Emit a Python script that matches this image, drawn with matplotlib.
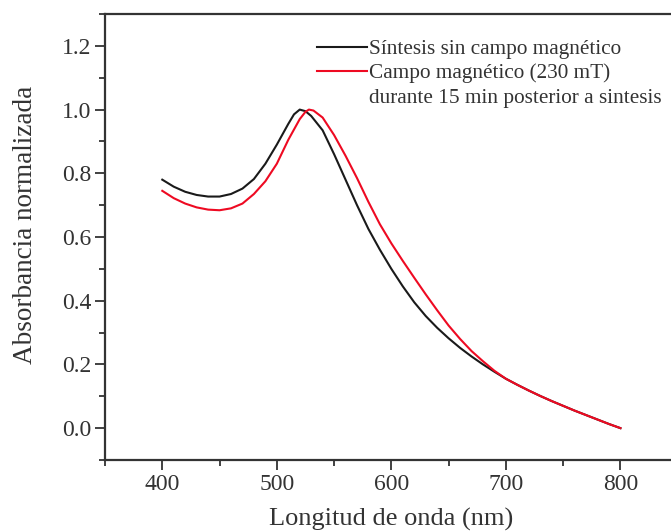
import matplotlib
matplotlib.use("Agg")
import matplotlib.pyplot as plt
from matplotlib.ticker import MultipleLocator
from matplotlib.lines import Line2D

wl_black = [400, 410, 420, 430, 440, 450, 460, 470, 480, 490, 500, 510, 515, 520, 525,
            530, 540, 550, 560, 570, 580, 590, 600, 610, 620, 630, 640, 650, 660, 670,
            680, 690, 700, 710, 720, 730, 740, 750, 760, 770, 780, 790, 800]
abs_black = [0.780, 0.758, 0.742, 0.732, 0.727, 0.727, 0.735, 0.752, 0.782, 0.830, 0.890,
             0.955, 0.985, 1.000, 0.995, 0.980, 0.935, 0.860, 0.780, 0.700, 0.625, 0.560,
             0.500, 0.445, 0.395, 0.352, 0.315, 0.282, 0.252, 0.225, 0.200, 0.177, 0.155,
             0.136, 0.118, 0.101, 0.085, 0.070, 0.055, 0.041, 0.027, 0.013, 0.000]

wl_red = [400, 410, 420, 430, 440, 450, 460, 470, 480, 490, 500, 510, 520, 525, 528,
          532, 540, 550, 560, 570, 580, 590, 600, 610, 620, 630, 640, 650, 660, 670,
          680, 690, 700, 710, 720, 730, 740, 750, 760, 770, 780, 790, 800]
abs_red = [0.745, 0.722, 0.705, 0.693, 0.686, 0.684, 0.690, 0.705, 0.735, 0.775, 0.830,
           0.905, 0.970, 0.993, 1.000, 0.997, 0.975, 0.920, 0.855, 0.785, 0.710, 0.640,
           0.580, 0.525, 0.472, 0.420, 0.370, 0.322, 0.280, 0.242, 0.210, 0.180, 0.155,
           0.136, 0.118, 0.101, 0.085, 0.070, 0.055, 0.041, 0.027, 0.013, 0.000]

labels = ["Síntesis sin campo magnético", "Campo magnético (230 mT)",
          "durante 15 min posterior a sintesis"]

plt.rcParams['font.family'] = ['Liberation Serif', 'DejaVu Serif']

fig = plt.figure(figsize=(6.71, 5.31), dpi=100)
ax = fig.add_axes([0.1565, 0.1337, 0.8535, 0.8399])

l1, = ax.plot(wl_black, abs_black, color='#1a1a1a', lw=1.5)
l2, = ax.plot(wl_red, abs_red, color='#ee0a22', lw=1.5)

ax.set_xlim(350, 850)
ax.set_ylim(-0.1, 1.3)
ax.xaxis.set_major_locator(MultipleLocator(100))
ax.xaxis.set_minor_locator(MultipleLocator(50))
ax.yaxis.set_major_locator(MultipleLocator(0.2))
ax.yaxis.set_minor_locator(MultipleLocator(0.1))
ax.yaxis.set_major_formatter(plt.FuncFormatter(lambda v, p: f"{v:.1f}"))

for s in ['left', 'bottom', 'top', 'right']:
    ax.spines[s].set_linewidth(1.6)
    ax.spines[s].set_color('#333333')
ax.tick_params(which='both', direction='out', color='#333333', width=1.3,
               labelsize=17, labelcolor='#333333', top=False, right=False)
ax.tick_params(which='major', length=7, pad=3)
ax.tick_params(which='minor', length=4)

ax.set_xlabel("Longitud de onda (nm)", fontsize=19, color='#333333', va='top')
ax.set_ylabel("Absorbancia normalizada", fontsize=19.5, color='#333333')
ax.xaxis.set_label_coords(0.5, -0.108)
ax.yaxis.set_label_coords(-0.117, 0.527)

blank = Line2D([], [], color='none')
ax.legend([l1, l2, blank], labels, loc='upper left', bbox_to_anchor=(0.356, 0.962),
          frameon=False, fontsize=15.3, handlelength=2.35, handletextpad=0.1,
          labelspacing=0.2, borderaxespad=0, labelcolor='#333333')

fig.savefig("out.png", dpi=100)
